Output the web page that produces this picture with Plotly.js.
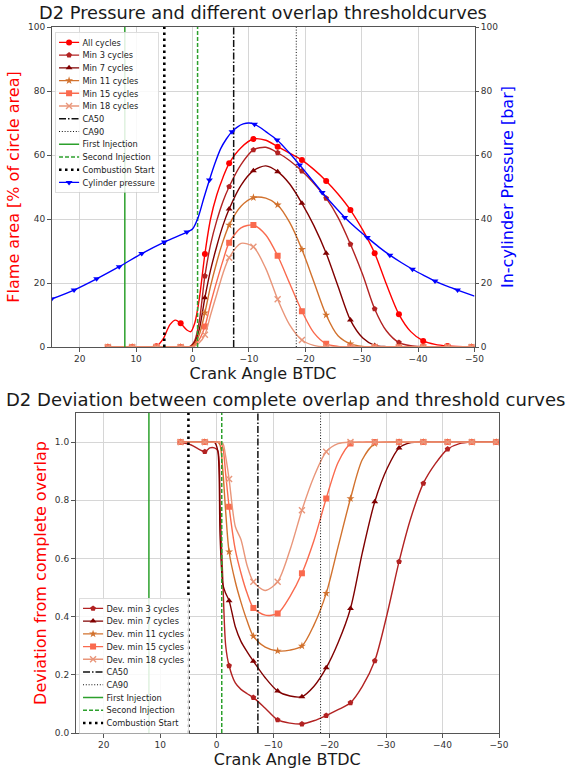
<!DOCTYPE html>
<html><head><meta charset="utf-8">
<script src="https://cdn.plot.ly/plotly-3.0.1.min.js"></script>
<style>html,body{margin:0;padding:0;background:#fff}</style>
</head><body><div id="chart" style="width:566px;height:772px"></div>
<script>
// ---------- Top chart: flame area (% of circle area) ----------
const flameX = [15, 10.7, 6.4, 5.2, 4, 3, 2.1, 1, 0.3, -0.4, -1.2, -2.2, -3.2, -4.3, -5.4, -6.5, -8.6, -10.8, -13, -15.1, -17.2, -19.4, -21.5, -23.7, -25.8, -28, -30.2, -32.3, -34.4, -36.6, -38.7, -40.9, -43, -45.2, -49.5];
const flameMarkX = [15, 10.7, 6.4, 2.1, -2.2, -6.5, -10.8, -15.1, -19.4, -23.7, -28, -32.3, -36.6, -40.9, -45.2, -49.5];
const allCycles = [0, 0, 0.2, 2.5, 7, 8.4, 7.4, 5.3, 4.8, 7.5, 15, 29.1, 40, 47.5, 53, 57.4, 62.3, 65, 64.6, 62.6, 60.6, 58.4, 55.5, 51.9, 47.8, 42.8, 36.5, 29.3, 19.5, 10.2, 4.8, 1.9, 0.8, 0.3, 0];
const min3  = [0, 0, 0, 0, 0, 0, 0, 0, 0.3, 2, 8, 22.2, 32, 39.5, 45.5, 50.1, 57, 61.6, 62.4, 60.7, 58.3, 55, 51.2, 46.5, 40.5, 32.1, 22.5, 11.9, 5, 1.4, 0.4, 0.1, 0, 0, 0];
const min7  = [0, 0, 0, 0, 0, 0, 0, 0, 0.2, 1.5, 5.5, 15.4, 24, 31.5, 38, 43.1, 50.5, 55.1, 56.6, 54.8, 51, 44.9, 38, 29.3, 19, 8.4, 2.8, 0.5, 0.1, 0, 0, 0, 0, 0, 0];
const min11 = [0, 0, 0, 0, 0, 0, 0, 0, 0.1, 1, 3.8, 10.7, 19, 26.5, 33, 38.1, 44, 46.7, 46.5, 44.4, 39, 30.5, 20.5, 10, 3.5, 1, 0.2, 0, 0, 0, 0, 0, 0, 0, 0];
const min15 = [0, 0, 0, 0, 0, 0, 0, 0, 0.05, 0.6, 2.3, 6.4, 13.5, 20.5, 27, 32.6, 37.2, 38.1, 35, 28.5, 20, 11.2, 4.5, 1, 0.2, 0, 0, 0, 0, 0, 0, 0, 0, 0, 0];
const min18 = [0, 0, 0, 0, 0, 0, 0, 0, 0, 0.3, 1.3, 3.8, 10, 16.5, 23, 27.9, 32.4, 31.3, 24.5, 14.9, 7, 2.2, 0.5, 0, 0, 0, 0, 0, 0, 0, 0, 0, 0, 0, 0];

// cylinder pressure [bar]
const pressX = [25, 21, 17, 13, 9, 5, 1, 0, -1, -2, -3, -4, -5, -6, -7, -8, -9, -10, -11, -12, -13, -15, -17, -19, -21, -23, -25, -27, -29, -31, -33, -35, -37, -39, -41, -43, -45, -47, -50];
const pressure = [15, 17.8, 21.3, 25.1, 29.2, 32.8, 35.9, 36.9, 40.5, 46.5, 52.2, 57.5, 62, 65, 67.3, 68.8, 69.7, 70, 69.6, 68.6, 67.3, 64.7, 61, 56.9, 52.6, 48.3, 44.3, 40.5, 37.2, 34.2, 31.3, 28.7, 26.4, 24.3, 22.4, 20.6, 19.1, 17.8, 15.9];
const pressMarkX = [25, 21, 17, 13, 9, 5, 1, -3, -7, -11, -15, -19, -23, -27, -31, -35, -39, -43, -47];

// ---------- Bottom chart: deviation from complete overlap ----------
const devX = [6.4, 4.5, 3.2, 2.1, 1.2, 0.4, -0.2, -0.6, -1.1, -1.6, -2.2, -3.3, -4.3, -5.4, -6.5, -8.6, -10.8, -13, -15.1, -17.2, -19.4, -21.5, -23.7, -25.8, -28, -30.2, -32.3, -34.4, -36.6, -38.7, -40.9, -43, -45.2, -49.5];
const devMarkX = [6.4, 2.1, -2.2, -6.5, -10.8, -15.1, -19.4, -23.7, -28, -32.3, -36.6, -40.9, -45.2, -49.5];
const dev3  = [1.0, 0.99, 0.976, 0.967, 0.98, 0.98, 0.97, 0.78, 0.52, 0.3, 0.231, 0.172, 0.15, 0.135, 0.122, 0.085, 0.045, 0.034, 0.031, 0.042, 0.06, 0.08, 0.104, 0.16, 0.248, 0.41, 0.589, 0.74, 0.858, 0.925, 0.976, 0.995, 1.0, 1.0];
const dev7  = [1, 1, 1, 1, 1, 1, 0.97, 0.68, 0.51, 0.48, 0.455, 0.365, 0.315, 0.279, 0.247, 0.19, 0.144, 0.127, 0.125, 0.16, 0.224, 0.31, 0.428, 0.62, 0.795, 0.91, 0.98, 0.998, 1, 1, 1, 1, 1, 1];
const dev11 = [1, 1, 1, 1, 1, 1, 1, 0.99, 0.9, 0.76, 0.623, 0.52, 0.45, 0.385, 0.333, 0.295, 0.282, 0.285, 0.299, 0.37, 0.48, 0.64, 0.806, 0.94, 0.995, 1, 1, 1, 1, 1, 1, 1, 1, 1];
const dev15 = [1, 1, 1, 1, 1, 1, 1, 1, 0.98, 0.89, 0.778, 0.63, 0.55, 0.48, 0.43, 0.405, 0.411, 0.47, 0.549, 0.66, 0.806, 0.93, 0.995, 1, 1, 1, 1, 1, 1, 1, 1, 1, 1, 1];
const dev18 = [1, 1, 1, 1, 1, 1, 1, 1, 0.995, 0.95, 0.873, 0.71, 0.665, 0.575, 0.52, 0.49, 0.52, 0.63, 0.766, 0.88, 0.967, 0.995, 1, 1, 1, 1, 1, 1, 1, 1, 1, 1, 1, 1];

// event crank angles
const eventNames = ['CA50', 'CA90', 'First Injection', 'Second Injection', 'Combustion Start'];
const eventX = [-7.3, -18.4, 12, -0.9, 5];

const xTicks = [20, 10, 0, -10, -20, -30, -40, -50];

// ---------- styles ----------
const FONT = 'DejaVu Sans, Verdana, sans-serif';
const LEGEND_SCALE = 0.67;
const seriesStyle = [
  {color: '#ff0000', symbol: 'circle'},
  {color: '#b22222', symbol: 'pentagon'},
  {color: '#800000', symbol: 'triangle-up'},
  {color: '#d2722e', symbol: 'star'},
  {color: '#fa6a4e', symbol: 'square'},
  {color: '#e9967a', symbol: 'x-thin'}
];
const eventStyle = [
  {color: '#111', dash: [7, 2, 1.5, 2], width: 1.5},
  {color: '#111', dash: [1, 1.8], width: 1},
  {color: '#2ca02c', dash: null, width: 1.5},
  {color: '#2ca02c', dash: [4, 2], width: 1.5},
  {color: '#000', dash: [2.5, 3.5], width: 2.6}
];
function dashStr(d, f) { return d ? d.map(v => (v * f).toFixed(2) + 'px').join(',') : 'solid'; }

function markerOf(st, f) {
  return {symbol: st.symbol, size: 6 * f, color: st.color,
          line: {width: (st.symbol === 'x-thin' ? 1.4 : 0) * f, color: st.color}};
}
// one series = smooth line + markers at the sampled points + a legend entry
function series(name, xs, ys, markXs, st, xa, ya, lg) {
  const my = markXs.map(v => ys[xs.indexOf(v)]);
  const inv = 1 / LEGEND_SCALE;
  return [
    {type: 'scatter', mode: 'lines', x: xs, y: ys, xaxis: xa, yaxis: ya, showlegend: false,
     line: {color: st.color, width: 1.4, shape: 'spline', smoothing: 0.8}},
    {type: 'scatter', mode: 'markers', x: markXs, y: my, xaxis: xa, yaxis: ya, showlegend: false,
     marker: markerOf(st, 1)},
    {type: 'scatter', mode: 'lines+markers', name: name, x: [null], y: [null], xaxis: xa, yaxis: ya,
     legend: lg, line: {color: st.color, width: 1.4 * inv}, marker: markerOf(st, inv)}
  ];
}
function vline(i, yTop, xa, ya, lg) {
  const st = eventStyle[i];
  const inv = 1 / LEGEND_SCALE;
  return [
    {type: 'scatter', mode: 'lines', showlegend: false,
     x: [eventX[i], eventX[i]], y: [0, yTop], xaxis: xa, yaxis: ya,
     line: {color: st.color, dash: dashStr(st.dash, 1), width: st.width}},
    {type: 'scatter', mode: 'lines', name: eventNames[i], x: [null], y: [null], xaxis: xa, yaxis: ya,
     legend: lg, line: {color: st.color, dash: dashStr(st.dash, inv), width: st.width * inv}}
  ];
}

let traces = [];
const topSeries = [['All cycles', allCycles], ['Min 3 cycles', min3], ['Min 7 cycles', min7],
                   ['Min 11 cycles', min11], ['Min 15 cycles', min15], ['Min 18 cycles', min18]];
topSeries.forEach((s, i) => { traces = traces.concat(series(s[0], flameX, s[1], flameMarkX, seriesStyle[i], 'x', 'y', 'legend')); });
for (let i = 0; i < eventNames.length; i++) traces = traces.concat(vline(i, 100, 'x', 'y', 'legend'));
traces = traces.concat(series('Cylinder pressure', pressX, pressure, pressMarkX,
  {color: '#0000ff', symbol: 'triangle-down'}, 'x', 'y2', 'legend'));

const botSeries = [['Dev. min 3 cycles', dev3], ['Dev. min 7 cycles', dev7], ['Dev. min 11 cycles', dev11],
                   ['Dev. min 15 cycles', dev15], ['Dev. min 18 cycles', dev18]];
botSeries.forEach((s, i) => { traces = traces.concat(series(s[0], devX, s[1], devMarkX, seriesStyle[i + 1], 'x2', 'y3', 'legend2')); });
for (let i = 0; i < eventNames.length; i++) traces = traces.concat(vline(i, 1.1, 'x2', 'y3', 'legend2'));

const W = 566, H = 772;
const axBase = {
  automargin: false,
  showgrid: true, gridcolor: '#d6d6d6', gridwidth: 1,
  showline: true, linecolor: '#555', linewidth: 1, mirror: true,
  ticks: 'outside', ticklen: 3.5, tickcolor: '#555',
  tickfont: {family: FONT, size: 9, color: '#333'}, zeroline: false
};
const xBase = Object.assign({}, axBase, {range: [25, -50], tickmode: 'array', tickvals: xTicks});

const legBase = {
  xanchor: 'left', yanchor: 'bottom', bgcolor: 'rgba(255,255,255,0.85)',
  bordercolor: '#cccccc', borderwidth: 1, tracegroupgap: 0,
  font: {family: FONT, size: 12.3, color: '#222'}
};

const layout = {
  width: W, height: H, autosize: false,
  margin: {l: 0, r: 0, t: 0, b: 0},
  paper_bgcolor: '#fff', plot_bgcolor: '#fff',
  font: {family: FONT},
  hovermode: false,
  title: {text: 'D2 Pressure and different overlap thresholdcurves',
          x: 263 / W, xanchor: 'center', xref: 'paper',
          y: 1 - 13 / H, yanchor: 'middle', yref: 'paper',
          font: {family: FONT, size: 17.8, color: '#1a1a1a'}},
  xaxis: Object.assign({}, xBase, {domain: [51.5 / W, 474.5 / W], anchor: 'y',
          title: {text: 'Crank Angle BTDC', font: {family: FONT, size: 16, color: '#1a1a1a'}, standoff: 2}}),
  yaxis: Object.assign({}, axBase, {domain: [1 - 347 / H, 1 - 27 / H], anchor: 'x', range: [0, 100],
          tickmode: 'array', tickvals: [0, 20, 40, 60, 80, 100],
          title: {text: 'Flame area [% of circle area]', font: {family: FONT, size: 16, color: '#ff0000'}, standoff: 4}}),
  yaxis2: Object.assign({}, axBase, {overlaying: 'y', side: 'right', anchor: 'x', range: [0, 100],
          showgrid: false, mirror: false,
          tickmode: 'array', tickvals: [0, 20, 40, 60, 80, 100],
          title: {text: 'In-cylinder Pressure [bar]', font: {family: FONT, size: 16, color: '#0000ff'}, standoff: 4}}),
  xaxis2: Object.assign({}, xBase, {domain: [75.5 / W, 499 / W], anchor: 'y3',
          title: {text: 'Crank Angle BTDC', font: {family: FONT, size: 16, color: '#1a1a1a'}, standoff: 2}}),
  yaxis3: Object.assign({}, axBase, {domain: [1 - 733 / H, 1 - 413 / H], anchor: 'x2', range: [0, 1.1],
          tickmode: 'array', tickvals: [0, 0.2, 0.4, 0.6, 0.8, 1.0], tickformat: '.1f',
          title: {text: 'Deviation from complete overlap', font: {family: FONT, size: 16, color: '#ff0000'}, standoff: 4}}),
  // legends are laid out inside the page, then shrunk and placed (see placeLegends)
  legend: Object.assign({}, legBase, {x: 0.1, y: 0.05}),
  legend2: Object.assign({}, legBase, {x: 0.15, y: 0.05}),
  annotations: [{
    text: 'D2 Deviation between complete overlap and threshold curves',
    xref: 'paper', yref: 'paper', x: 285 / W, y: 1 - 400 / H,
    xanchor: 'center', yanchor: 'middle', showarrow: false,
    font: {family: FONT, size: 18, color: '#1a1a1a'}
  }]
};

const legendPos = {legend: [55, 32], legend2: [79, 598]};
function placeLegends() {
  Object.keys(legendPos).forEach(id => {
    const g = document.querySelector('g.' + id);
    if (!g) return;
    const p = legendPos[id];
    g.setAttribute('transform', 'translate(' + p[0] + ',' + p[1] + ') scale(' + LEGEND_SCALE + ')');
  });
}
Plotly.newPlot('chart', traces, layout, {displayModeBar: false, staticPlot: true, responsive: false})
  .then(() => { placeLegends(); setTimeout(placeLegends, 60); });
</script>
</body></html>
